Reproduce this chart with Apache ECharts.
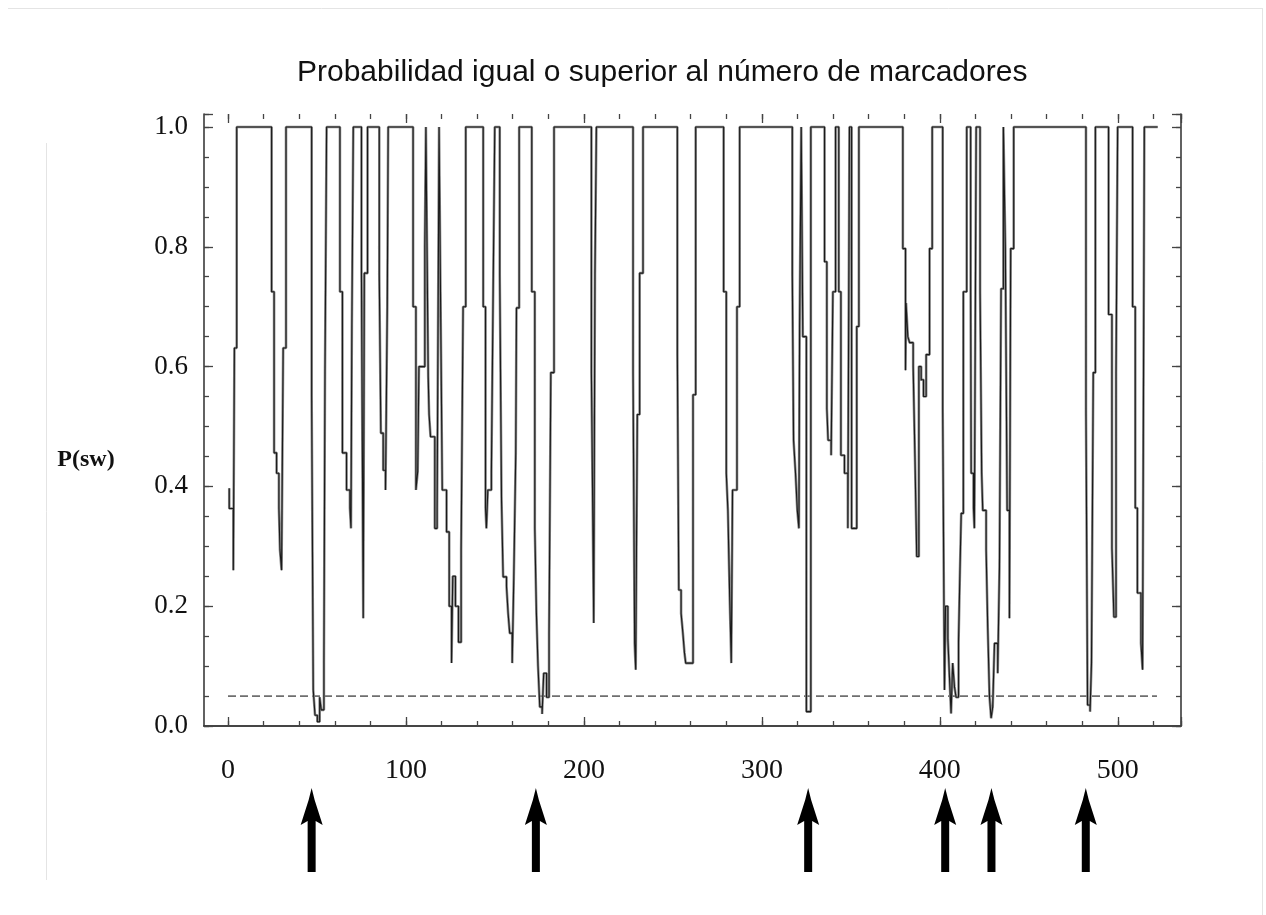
<!DOCTYPE html>
<html><head><meta charset="utf-8">
<script src="https://cdn.jsdelivr.net/npm/echarts@6/dist/echarts.min.js"></script>
<style>html,body{margin:0;padding:0;background:#fff;}#chart{width:1266px;height:915px;}</style>
</head><body><div id="chart"></div>
<script>
const TITLE = 'Probabilidad igual o superior al número de marcadores';
const Y_NAME = 'P(sw)';
const X_TICKS = [0, 100, 200, 300, 400, 500];
const Y_TICKS = [0, 0.2, 0.4, 0.6, 0.8, 1.0];
const X_MAX = 535.5;
const Y_MAX = 1.0217;
const THRESHOLD = 0.05;
const THRESHOLD_RANGE = [0, 522];
const ARROW_X = [47, 173, 326, 403, 429, 482];
// step curve [position, P(sw)]
const P_SW = [
[0.7,0.397],[0.7,0.363],[3,0.363],[3,0.26],[3.6,0.26],[3.6,0.631],[4.9,0.631],[4.9,1],
[24.5,1],[24.5,0.725],[25.9,0.725],[25.9,0.456],[27.3,0.456],[27.3,0.422],[28.6,0.422],[28.6,0.364],[29.2,0.364],[29.2,0.294],[30.1,0.294],[30.1,0.26],[31,0.26],[31,0.631],[32.6,0.631],[32.6,1],
[47,1],[47,0.553],[47.9,0.553],[47.9,0.06],[48.9,0.06],[48.9,0.018],[50.2,0.018],[50.2,0.007],[51.5,0.007],[51.5,0.048],[52.4,0.048],[52.4,0.027],[53.9,0.027],[53.9,0.105],[54.5,0.105],[54.5,0.59],[55.4,0.59],[55.4,1],
[62.9,1],[62.9,0.725],[64.3,0.725],[64.3,0.456],[66.6,0.456],[66.6,0.394],[68.5,0.394],[68.5,0.364],[69.1,0.364],[69.1,0.33],[69.6,0.33],[69.6,0.667],[70.4,0.667],[70.4,1],
[75,1],[75,0.756],[76,0.756],[76,0.18],[76.6,0.18],[76.6,0.756],[78.4,0.756],[78.4,1],
[85,1],[85,0.753],[85.9,0.753],[85.9,0.489],[87.2,0.489],[87.2,0.427],[88.5,0.427],[88.5,0.394],[89.5,0.394],[89.5,0.7],[90,0.7],[90,1],
[104,1],[104,0.7],[105.6,0.7],[105.6,0.394],[106.6,0.394],[106.6,0.425],[107.3,0.425],[107.3,0.6],[110.6,0.6],[110.6,0.8],[111.2,0.8],[111.2,1],[111.9,1],[111.9,0.778],[112.5,0.778],[112.5,0.583],[113,0.583],[113,0.52],[113.8,0.52],[113.8,0.483],[116.2,0.483],[116.2,0.33],[117.5,0.33],[117.5,0.36],[118.6,0.36],[118.6,1],[119.4,1],[119.4,0.725],[120.4,0.725],[120.4,0.394],[122.8,0.394],[122.8,0.324],[124.3,0.324],[124.3,0.2],[125.6,0.2],[125.6,0.105],[126.3,0.105],[126.3,0.25],[127.8,0.25],[127.8,0.2],[129.5,0.2],[129.5,0.14],[131,0.14],[131,0.294],[132.1,0.294],[132.1,0.7],[133.6,0.7],[133.6,1],
[143.4,1],[143.4,0.7],[144.7,0.7],[144.7,0.364],[145.2,0.364],[145.2,0.33],[146,0.33],[146,0.394],[148,0.394],[148,0.425],[149,0.425],[149,0.73],[149.9,0.73],[149.9,1],
[152.7,1],[152.7,0.753],[153.7,0.753],[153.7,0.377],[154.6,0.377],[154.6,0.249],[156.5,0.249],[156.5,0.233],[157.4,0.233],[157.4,0.188],[158.3,0.188],[158.3,0.155],[159.7,0.155],[159.7,0.105],[160.6,0.105],[160.6,0.249],[161.7,0.249],[161.7,0.456],[162.1,0.456],[162.1,0.698],[163.6,0.698],[163.6,1],
[170.7,1],[170.7,0.725],[172.4,0.725],[172.4,0.33],[173.3,0.33],[173.3,0.188],[174.2,0.188],[174.2,0.1],[175.2,0.1],[175.2,0.032],[176.5,0.032],[176.5,0.02],[177.4,0.02],[177.4,0.088],[179,0.088],[179,0.048],[180.4,0.048],[180.4,0.155],[181.4,0.155],[181.4,0.59],[183.2,0.59],[183.2,1],
[204.2,1],[204.2,0.59],[205,0.59],[205,0.344],[205.5,0.344],[205.5,0.172],[206.2,0.172],[206.2,0.756],[207,0.756],[207,1],
[227.6,1],[227.6,0.59],[228.5,0.59],[228.5,0.138],[229.1,0.138],[229.1,0.094],[230,0.094],[230,0.52],[231.3,0.52],[231.3,0.756],[233.2,0.756],[233.2,1],
[252.5,1],[252.5,0.62],[253.3,0.62],[253.3,0.227],[254.6,0.227],[254.6,0.188],[255.6,0.188],[255.6,0.155],[256.5,0.155],[256.5,0.122],[257.2,0.122],[257.2,0.105],[261.3,0.105],[261.3,0.553],[262.8,0.553],[262.8,1],
[278.5,1],[278.5,0.725],[280,0.725],[280,0.422],[280.9,0.422],[280.9,0.36],[281.9,0.36],[281.9,0.216],[282.8,0.216],[282.8,0.105],[283.5,0.105],[283.5,0.394],[286,0.394],[286,0.7],[287.5,0.7],[287.5,1],
[317.1,1],[317.1,0.753],[317.8,0.753],[317.8,0.477],[318.9,0.477],[318.9,0.422],[319.9,0.422],[319.9,0.36],[320.8,0.36],[320.8,0.33],[321.2,0.33],[321.2,0.667],[322.1,0.667],[322.1,1],[323,1],[323,0.65],[325,0.65],[325,0.024],[327.5,0.024],[327.5,1],
[335.2,1],[335.2,0.775],[336.5,0.775],[336.5,0.53],[337.2,0.53],[337.2,0.477],[338.9,0.477],[338.9,0.452],[339.9,0.452],[339.9,0.725],[341.4,0.725],[341.4,1],
[343.2,1],[343.2,0.725],[344.4,0.725],[344.4,0.452],[346.4,0.452],[346.4,0.422],[348.3,0.422],[348.3,0.33],[349.2,0.33],[349.2,1],[350.4,1],[350.4,0.33],[353.3,0.33],[353.3,0.667],[354.5,0.667],[354.5,1],
[379.2,1],[379.2,0.797],[380.7,0.797],[380.7,0.594],[381,0.594],[381,0.706],[382,0.706],[382,0.65],[383,0.65],[383,0.64],[385,0.64],[385,0.6],[386,0.6],[386,0.45],[387,0.45],[387,0.283],[388.2,0.283],[388.2,0.6],[389.5,0.6],[389.5,0.578],[390.8,0.578],[390.8,0.55],[392.3,0.55],[392.3,0.62],[394.2,0.62],[394.2,0.797],[395.7,0.797],[395.7,1],
[401.6,1],[401.6,0.53],[402.6,0.53],[402.6,0.06],[403.2,0.06],[403.2,0.2],[404.5,0.2],[404.5,0.145],[405.4,0.145],[405.4,0.082],[406.3,0.082],[406.3,0.021],[407.2,0.021],[407.2,0.105],[408.2,0.105],[408.2,0.066],[409.1,0.066],[409.1,0.048],[410.5,0.048],[410.5,0.14],[411.3,0.14],[411.3,0.26],[412,0.26],[412,0.355],[413.2,0.355],[413.2,0.725],[415.1,0.725],[415.1,1],
[417.3,1],[417.3,0.725],[417.6,0.725],[417.6,0.422],[418.9,0.422],[418.9,0.364],[419.4,0.364],[419.4,0.33],[420.4,0.33],[420.4,1],[422.6,1],[422.6,0.725],[423.5,0.725],[423.5,0.422],[424.1,0.422],[424.1,0.36],[426,0.36],[426,0.294],[426.9,0.294],[426.9,0.165],[427.9,0.165],[427.9,0.048],[428.8,0.048],[428.8,0.013],[429.7,0.013],[429.7,0.032],[430.7,0.032],[430.7,0.138],[432.5,0.138],[432.5,0.088],[433.5,0.088],[433.5,0.266],[434.4,0.266],[434.4,0.73],[435.7,0.73],[435.7,1],[436.8,1],[436.8,0.797],[437.8,0.797],[437.8,0.36],[439.1,0.36],[439.1,0.18],[439.8,0.18],[439.8,0.797],[441.5,0.797],[441.5,1],
[482.1,1],[482.1,0.525],[483,0.525],[483,0.035],[484.4,0.035],[484.4,0.024],[485.2,0.024],[485.2,0.105],[486.2,0.105],[486.2,0.59],[487.4,0.59],[487.4,1],
[494.8,1],[494.8,0.687],[496.7,0.687],[496.7,0.297],[497.8,0.297],[497.8,0.182],[499,0.182],[499,0.59],[499.9,0.59],[499.9,1],
[508.3,1],[508.3,0.7],[509.8,0.7],[509.8,0.364],[511,0.364],[511,0.222],[513,0.222],[513,0.138],[513.9,0.138],[513.9,0.094],[514.4,0.094],[514.4,0.547],[514.9,0.547],[514.9,1],[522.4,1]
];

const FRAME = '#3a3a3a';
const TICK = '#444';
const SERIF = '"Liberation Serif", "DejaVu Serif", serif';
const BORDER = '#e4e4e4';
const onTick = (v, list) => list.some(t => Math.abs(t - v) < 1e-6);

function xAxisTicks(pos, interval, len, labels) {
  return {
    type: 'value', gridIndex: 0, position: pos, min: 0, max: X_MAX, interval: interval,
    axisLine: { show: false },
    axisTick: { show: true, inside: true, length: len, lineStyle: { color: TICK, width: 1.3 } },
    axisLabel: labels ? {
      show: true, margin: 31, color: '#111', fontFamily: SERIF, fontSize: 28,
      formatter: v => onTick(v, X_TICKS) ? String(Math.round(v)) : ''
    } : { show: false },
    splitLine: { show: false }
  };
}
function yAxisTicks(pos, interval, len, labels) {
  return {
    type: 'value', gridIndex: 1, position: pos, min: 0, max: Y_MAX, interval: interval,
    axisLine: { show: labels !== null, lineStyle: { color: FRAME, width: 1.6 } },
    axisTick: { show: true, inside: true, length: len, lineStyle: { color: TICK, width: 1.3 } },
    axisLabel: labels ? {
      show: true, margin: 16, color: '#111', fontFamily: SERIF, fontSize: 27,
      formatter: v => onTick(v, Y_TICKS) ? v.toFixed(1) : ''
    } : { show: false },
    splitLine: { show: false }
  };
}

const chart = echarts.init(document.getElementById('chart'), null, { renderer: 'canvas' });
chart.setOption({
  animation: false,
  backgroundColor: '#fff',
  grid: [
    { left: 228, top: 114, width: 953, height: 612 },
    { left: 204, top: 114, width: 977, height: 612 }
  ],
  xAxis: [
    xAxisTicks('bottom', 20, 5, false),
    xAxisTicks('bottom', 100, 9, true),
    xAxisTicks('top', 20, 5, false),
    xAxisTicks('top', 100, 9, false),
    { type: 'value', gridIndex: 1, position: 'bottom', min: 0, max: 1,
      axisLine: { show: true, lineStyle: { color: FRAME, width: 1.6 } },
      axisTick: { show: false }, axisLabel: { show: false }, splitLine: { show: false } },
    { type: 'value', gridIndex: 1, position: 'top', min: 0, max: 1,
      axisLine: { show: true, lineStyle: { color: FRAME, width: 1.6 } },
      axisTick: { show: false }, axisLabel: { show: false }, splitLine: { show: false } }
  ],
  yAxis: [
    { type: 'value', gridIndex: 0, min: 0, max: Y_MAX, show: false },
    yAxisTicks('left', 0.2, 9, true),
    yAxisTicks('left', 0.05, 5, null),
    yAxisTicks('right', 0.2, 9, false),
    yAxisTicks('right', 0.05, 5, null)
  ],
  graphic: [
    { type: 'line', shape: { x1: 8, y1: 8.5, x2: 1262, y2: 8.5 }, style: { stroke: BORDER, lineWidth: 1 }, silent: true },
    { type: 'line', shape: { x1: 1262.5, y1: 8, x2: 1262.5, y2: 915 }, style: { stroke: BORDER, lineWidth: 1 }, silent: true },
    { type: 'line', shape: { x1: 46.5, y1: 143, x2: 46.5, y2: 880 }, style: { stroke: BORDER, lineWidth: 1 }, silent: true },
    { type: 'text', x: 297, y: 73, style: { text: TITLE, fill: '#111',
      font: '30px "Liberation Sans", Arial, sans-serif', align: 'left', verticalAlign: 'middle' } },
    { type: 'text', x: 86, y: 460, style: { text: Y_NAME, fill: '#111',
      font: 'bold 24px "Liberation Serif", serif', align: 'center', verticalAlign: 'middle' } }
  ],
  series: [
    {
      type: 'line', xAxisIndex: 0, yAxisIndex: 0, data: P_SW, showSymbol: false, symbol: 'none',
      lineStyle: { color: '#8c8c8c', width: 2.6 }, z: 3, silent: true
    },
    {
      type: 'line', xAxisIndex: 0, yAxisIndex: 0, data: P_SW, showSymbol: false, symbol: 'none',
      lineStyle: { color: '#1a1a1a', width: 1.1 }, z: 4, silent: true
    },
    {
      type: 'line', xAxisIndex: 0, yAxisIndex: 0, symbol: 'none',
      data: THRESHOLD_RANGE.map(x => [x, THRESHOLD]),
      lineStyle: { color: '#6f6f6f', width: 1.8, type: [8, 4] }, z: 2
    },
    {
      type: 'custom', xAxisIndex: 0, yAxisIndex: 0, clip: false,
      data: ARROW_X.map(x => [x, 0]),
      renderItem: function (params, api) {
        const p = api.coord([api.value(0), 0]);
        const cx = p[0], ty = p[1] + 62;
        const shape = [[0,0],[3,12],[11,37],[4,33],[4,84],[-4,84],[-4,33],[-11,37],[-3,12]];
        return { type: 'polygon', shape: { points: shape.map(d => [cx + d[0], ty + d[1]]) },
                 style: { fill: '#000' } };
      }
    }
  ]
});
</script></body></html>
